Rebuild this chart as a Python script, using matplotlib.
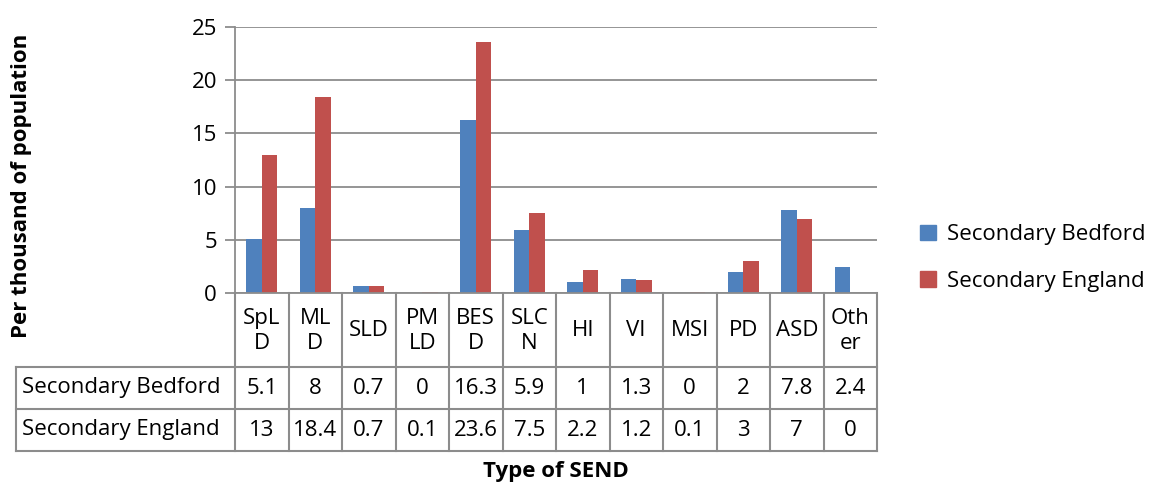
import matplotlib
matplotlib.use("Agg")
import matplotlib.pyplot as plt
from matplotlib.patches import Patch
import matplotlib.transforms as mtransforms
import numpy as np

plt.rcParams['font.family'] = ['Open Sans', 'DejaVu Sans']

# Data
categories = ["SpL\nD", "ML\nD", "SLD", "PM\nLD", "BES\nD", "SLC\nN", "HI", "VI", "MSI", "PD", "ASD", "Oth\ner"]
bedford = [5.1, 8, 0.7, 0, 16.3, 5.9, 1, 1.3, 0, 2, 7.8, 2.4]
england = [13, 18.4, 0.7, 0.1, 23.6, 7.5, 2.2, 1.2, 0.1, 3, 7, 0]
series_names = ["Secondary Bedford", "Secondary England"]
yticks = [0, 5, 10, 15, 20, 25]

BLUE = "#4F81BD"
RED = "#C0504D"
GRID = "#8c8c8c"
FS = 16

W, H = 1150, 484
fig = plt.figure(figsize=(W / 100, H / 100), dpi=100)

def fy(py):
    return 1 - py / H

left, right, top, zero = 235, 877, 27, 293
ax = fig.add_axes([left / W, fy(zero), (right - left) / W, (zero - top) / H])

x = np.arange(len(categories))
bw = 0.29
ax.bar(x - bw / 2, bedford, bw, color=BLUE, zorder=2)
ax.bar(x + bw / 2, england, bw, color=RED, zorder=2)

ax.set_xlim(-0.5, len(categories) - 0.5)
ax.set_ylim(0, 25)
ax.set_yticks(yticks)
ax.set_yticklabels([str(t) for t in yticks], fontsize=FS)
ax.yaxis.grid(True, color=GRID, lw=1.3, zorder=0)
ax.set_axisbelow(True)
ax.set_xticks([])
for s in ["top", "right"]:
    ax.spines[s].set_visible(False)
for s in ["left", "bottom"]:
    ax.spines[s].set_color(GRID)
    ax.spines[s].set_linewidth(1.3)
    ax.spines[s].set_zorder(3)
ax.tick_params(axis='y', length=7, color=GRID, width=1.3, pad=6)

# data table under the axis
trans = mtransforms.blended_transform_factory(ax.transData, fig.transFigure)
row_lines = [367, 409, 451]
for i in range(len(categories) + 1):
    ax.plot([i - 0.5, i - 0.5], [fy(zero), fy(row_lines[-1])], color=GRID, lw=1.5,
            transform=trans, clip_on=False)
for ry in row_lines:
    fig.add_artist(plt.Line2D([16 / W, right / W], [fy(ry), fy(ry)], color=GRID, lw=1.5))
fig.add_artist(plt.Line2D([16 / W, 16 / W], [fy(row_lines[0]), fy(row_lines[-1])], color=GRID, lw=1.5))

for i, c in enumerate(categories):
    ax.text(i, fy(331), c, transform=trans, ha='center', va='center', fontsize=FS,
            linespacing=1.2)
    ax.text(i, fy(388), f"{bedford[i]:g}", transform=trans, ha='center', va='center', fontsize=FS)
    ax.text(i, fy(430), f"{england[i]:g}", transform=trans, ha='center', va='center', fontsize=FS)
fig.text(22 / W, fy(388), series_names[0], ha='left', va='center', fontsize=FS)
fig.text(22 / W, fy(430), series_names[1], ha='left', va='center', fontsize=FS)

fig.text(556 / W, fy(471), "Type of SEND", ha='center', va='center', fontsize=FS, fontweight='bold')
fig.text(22 / W, fy(186), "Per thousand of population", ha='center', va='center', rotation=90,
         fontsize=FS, fontweight='bold')

handles = [Patch(color=BLUE, label=series_names[0]), Patch(color=RED, label=series_names[1])]
fig.legend(handles=handles, loc='center left', bbox_to_anchor=(900 / W, fy(258)), frameon=False,
           fontsize=FS, handlelength=0.7, handleheight=0.7, handletextpad=0.5, labelspacing=1.15)

fig.savefig("out.png", dpi=100)
